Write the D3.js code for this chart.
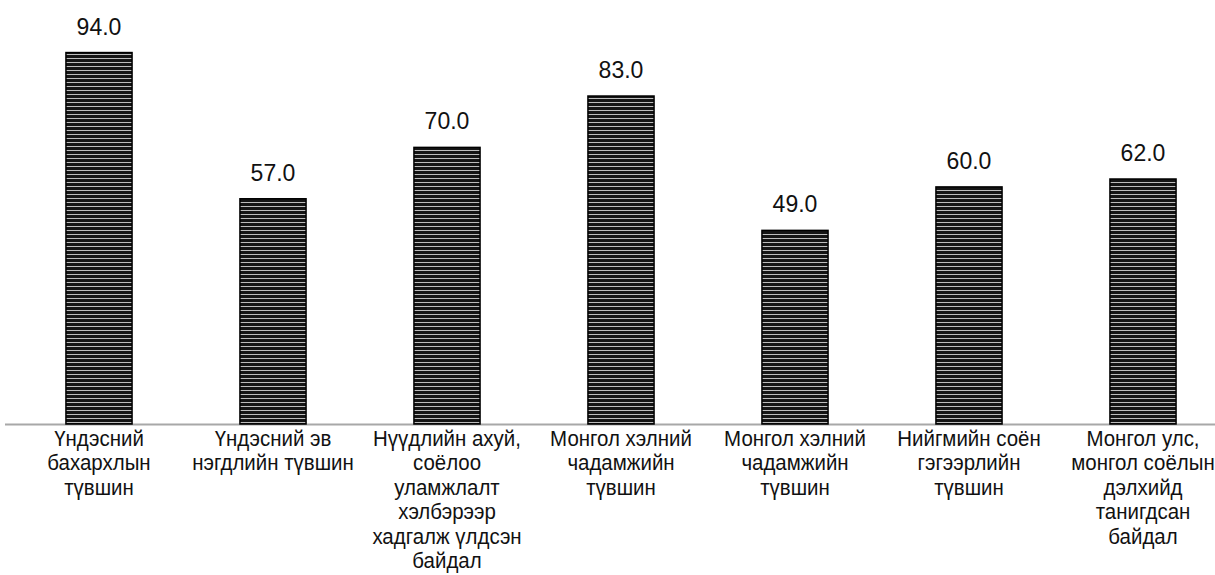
<!doctype html>
<meta charset="utf-8">
<head>
<script src="https://d3js.org/d3.v7.min.js"></script>
<style>
  body { margin: 0; background: #fff; }
  text { font-family: "Liberation Sans", Arial, sans-serif; }
</style>
</head>
<body>
<svg width="1215" height="575"></svg>
<script>
    // categories (each one split into its printed lines)
    let categories = [
        ["Үндэсний", "бахархлын", "түвшин"],
        ["Үндэсний эв", "нэгдлийн түвшин"],
        ["Нүүдлийн ахуй,", "соёлоо", "уламжлалт", "хэлбэрээр", "хадгалж үлдсэн", "байдал"],
        ["Монгол хэлний", "чадамжийн", "түвшин"],
        ["Монгол хэлний", "чадамжийн", "түвшин"],
        ["Нийгмийн соён", "гэгээрлийн", "түвшин"],
        ["Монгол улс,", "монгол соёлын", "дэлхийд", "танигдсан", "байдал"]
    ];
    let values = [94.0, 57.0, 70.0, 83.0, 49.0, 60.0, 62.0];

    let svg = d3.select("svg");
    let baseY = 424;

    let x = d3.scaleBand()
        .domain(d3.range(values.length))
        .range([12, 1230])
        .paddingInner(0.62)
        .paddingOuter(0.31);

    let y = d3.scaleLinear()
        .domain([0, 107.3])
        .range([baseY, 0]);

    // striped fill for the bars
    let pat = svg.append("defs").append("pattern")
        .attr("id", "stripes")
        .attr("patternUnits", "userSpaceOnUse")
        .attr("width", 8)
        .attr("height", 4);
    pat.append("rect")
        .attr("width", 8).attr("height", 4)
        .attr("fill", "#151515");
    pat.append("rect")
        .attr("y", 2).attr("width", 8).attr("height", 1)
        .attr("fill", "#bdbdbd");

    // baseline
    svg.append("line")
        .attr("x1", 5).attr("x2", 1215)
        .attr("y1", baseY + 0.5).attr("y2", baseY + 0.5)
        .attr("stroke", "#a8a8a8")
        .attr("stroke-width", 2);

    svg.selectAll(".bar")
        .data(values)
        .enter().append("rect")
        .attr("class", "bar")
        .attr("x", (d, i) => x(i))
        .attr("y", (d) => y(d))
        .attr("width", x.bandwidth())
        .attr("height", (d) => baseY - y(d))
        .attr("fill", "url(#stripes)")
        .attr("stroke", "#000")
        .attr("stroke-width", 1.5);

    svg.selectAll(".val")
        .data(values)
        .enter().append("text")
        .attr("class", "val")
        .attr("x", (d, i) => x(i) + x.bandwidth() / 2)
        .attr("y", (d) => y(d) - 18)
        .attr("text-anchor", "middle")
        .attr("font-size", 23)
        .attr("fill", "#111")
        .text((d) => d.toFixed(1));

    let lab = svg.selectAll(".cat")
        .data(categories)
        .enter().append("text")
        .attr("class", "cat")
        .attr("text-anchor", "middle")
        .attr("font-size", 22)
        .attr("fill", "#111")
        .attr("transform", (d, i) =>
            `translate(${x(i) + x.bandwidth() / 2},0) scale(0.93,1)`);

    lab.selectAll("tspan")
        .data((d) => d)
        .enter().append("tspan")
        .attr("x", 0)
        .attr("y", (d, j) => 446 + j * 24.4)
        .text((d) => d);
</script>
</body>
